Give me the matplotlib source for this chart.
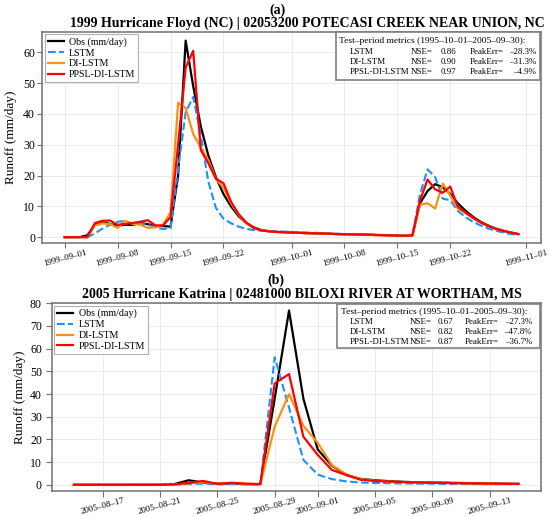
import matplotlib
matplotlib.use("Agg")
import matplotlib.pyplot as plt
import matplotlib.dates as mdates
from matplotlib.patches import Rectangle
import numpy as np
import pandas as pd

plt.rcParams['font.family'] = ['Liberation Serif', 'DejaVu Serif']

# ---------------- Panel (a) data: 1999 Hurricane Floyd ----------------
dates_a = pd.date_range("1999-09-01", "1999-10-31", freq="D")
obs_a = [0.0, 0.0, 0.0, 0.6, 4.0, 4.8, 4.3, 3.8, 4.0, 4.0,
         4.6, 4.2, 3.6, 3.6, 3.4, 20.0, 63.8, 49.0, 36.0, 26.5,
         19.5, 14.0, 10.0, 6.8, 4.6, 3.2, 2.3, 1.9, 1.7, 1.6,
         1.5, 1.4, 1.3, 1.25, 1.2, 1.1, 1.0, 0.95, 0.9, 0.85,
         0.8, 0.7, 0.65, 0.6, 0.5, 0.45, 0.6, 11.0, 15.0, 17.2,
         16.2, 14.0, 11.0, 8.6, 6.6, 5.0, 3.8, 2.8, 2.1, 1.5, 1.0]
lstm_a = [0.0, 0.0, 0.0, 0.0, 1.2, 2.8, 4.0, 5.0, 5.2, 4.4,
          4.5, 4.0, 3.2, 2.6, 2.9, 22.0, 40.5, 45.5, 33.0, 18.0,
          9.5, 6.0, 4.5, 3.4, 2.7, 2.3, 2.1, 2.0, 1.9, 1.8,
          1.7, 1.6, 1.5, 1.4, 1.3, 1.2, 1.1, 1.0, 0.95, 0.9,
          0.85, 0.8, 0.7, 0.6, 0.55, 0.5, 0.6, 14.0, 22.0, 19.5,
          12.5, 12.0, 8.5, 6.5, 5.0, 3.8, 2.8, 2.1, 1.5, 1.0, 0.7]
di_a = [0.0, 0.0, 0.0, 0.0, 3.8, 4.5, 4.2, 3.0, 5.3, 4.3,
        4.0, 3.0, 3.2, 4.0, 8.0, 43.6, 42.0, 33.5, 29.0, 25.0,
        19.0, 16.0, 11.0, 7.2, 4.6, 3.0, 2.2, 1.9, 1.7, 1.6,
        1.5, 1.4, 1.3, 1.25, 1.2, 1.1, 1.0, 0.95, 0.9, 0.85,
        0.8, 0.7, 0.65, 0.6, 0.5, 0.45, 0.6, 10.5, 11.0, 9.3,
        17.4, 13.5, 9.3, 7.8, 6.2, 4.8, 3.6, 2.7, 2.0, 1.5, 1.0]
ppsl_a = [0.0, 0.0, 0.0, 0.0, 4.6, 5.3, 5.4, 4.0, 4.3, 4.6,
          5.0, 5.5, 3.8, 3.8, 6.5, 30.0, 55.0, 60.5, 28.3, 24.0,
          19.0, 17.5, 11.5, 7.5, 4.8, 3.0, 2.2, 1.9, 1.7, 1.6,
          1.5, 1.4, 1.3, 1.25, 1.2, 1.1, 1.0, 0.95, 0.9, 0.85,
          0.8, 0.7, 0.65, 0.6, 0.5, 0.45, 0.6, 12.0, 18.7, 15.5,
          14.4, 16.4, 9.9, 8.0, 6.3, 4.8, 3.6, 2.7, 2.0, 1.5, 1.0]

# ---------------- Panel (b) data: 2005 Hurricane Katrina ----------------
dates_b = pd.date_range("2005-08-15", "2005-09-15", freq="D")
obs_b = [0.0, 0.0, 0.0, 0.0, 0.0, 0.0, 0.0, 0.3, 2.0, 1.0,
         0.5, 0.5, 0.3, 0.3, 38.0, 76.8, 38.0, 15.6, 8.4, 4.3,
         2.6, 2.0, 1.6, 1.3, 1.1, 1.0, 0.9, 0.8, 0.7, 0.6, 0.5, 0.4]
lstm_b = [0.0, 0.0, 0.0, 0.0, 0.0, 0.0, 0.0, 0.1, 0.3, 0.5,
          0.2, 0.3, 0.2, 0.1, 56.2, 34.0, 11.0, 4.5, 2.5, 1.5,
          1.0, 0.8, 0.7, 0.6, 0.5, 0.5, 0.4, 0.4, 0.3, 0.3, 0.3, 0.3]
di_b = [0.0, 0.0, 0.0, 0.0, 0.0, 0.0, 0.0, 0.2, 0.6, 1.2,
        0.5, 0.8, 0.4, 0.3, 25.6, 40.0, 26.0, 18.5, 8.6, 4.6,
        2.5, 1.8, 1.4, 1.2, 1.0, 0.9, 0.8, 0.7, 0.6, 0.5, 0.45, 0.4]
ppsl_b = [0.0, 0.0, 0.0, 0.0, 0.0, 0.0, 0.0, 0.2, 0.8, 1.7,
          0.4, 0.9, 0.5, 0.3, 44.7, 48.8, 21.2, 13.2, 6.5, 4.3,
          2.2, 1.7, 1.4, 1.2, 1.0, 0.9, 0.8, 0.7, 0.6, 0.5, 0.45, 0.4]

series_names = ["Obs (mm/day)", "LSTM", "DI-LSTM", "PPSL-DI-LSTM"]
model_names = ["LSTM", "DI-LSTM", "PPSL-DI-LSTM"]
nse_a = [0.86, 0.90, 0.97]
peak_a = [-28.3, -31.3, -4.9]
nse_b = [0.67, 0.82, 0.87]
peak_b = [-27.3, -47.8, -36.7]
period = "1995–10–01–2005–09–30"

title_a = "1999 Hurricane Floyd (NC) | 02053200 POTECASI CREEK NEAR UNION, NC"
title_b = "2005 Hurricane Katrina | 02481000 BILOXI RIVER AT WORTHAM, MS"

W, H = 550, 516
fig = plt.figure(figsize=(W / 100, H / 100), dpi=100)


def fx(px):
    return px / W


def fy(py):
    return 1 - py / H


axA = fig.add_axes([fx(42), fy(243.3), (541 - 42) / W, (243.3 - 31.7) / H])
axB = fig.add_axes([fx(51.7), fy(490.7), (540.7 - 51.7) / W, (490.7 - 303.3) / H])

styles = [dict(color="black", lw=1.6, ls="-"),
          dict(color="#1E90FF", lw=1.5, ls="--"),
          dict(color="#FF9010", lw=1.6, ls="-"),
          dict(color="#FF0000", lw=1.6, ls="-")]

spine_col = "#707070"


def draw(ax, dates, series, ylim, yticks, locator, ticklen, tickpad):
    for s, st, nm in zip(series, styles, series_names):
        ax.plot(dates, s, label=nm, **st)
    ax.set_ylim(*ylim)
    ax.set_yticks(yticks)
    ax.margins(x=0.05)
    ax.xaxis.set_major_locator(locator)
    ax.xaxis.set_major_formatter(mdates.DateFormatter("%Y–%m–%d"))
    ax.grid(True, color="#e8e8e8", lw=0.6)
    ax.set_axisbelow(True)
    for sp in ax.spines.values():
        sp.set_color(spine_col)
        sp.set_linewidth(1.1)
    ax.tick_params(axis="y", labelsize=8.5, length=ticklen, pad=tickpad, color=spine_col)
    ax.tick_params(axis="x", labelsize=6.4, length=ticklen, pad=0.5, color=spine_col)
    for lab in ax.get_xticklabels():
        lab.set_rotation(15)
        lab.set_ha("center")
    ax.set_ylabel("Runoff (mm/day)", fontsize=9.5)
    leg = ax.legend(loc="upper left", fontsize=7.2, frameon=True, fancybox=False,
                    borderaxespad=0.25, handlelength=1.6, labelspacing=0.18,
                    borderpad=0.3, handletextpad=0.55)
    leg.get_frame().set_edgecolor("#b0b0b0")
    leg.get_frame().set_linewidth(0.8)
    leg.get_frame().set_alpha(1.0)


draw(axA, dates_a, [obs_a, lstm_a, di_a, ppsl_a], (-2.0, 66.7), np.arange(0, 61, 10),
     mdates.DayLocator(bymonthday=[1, 8, 15, 22]), 3.3, 1.7)
draw(axB, dates_b, [obs_b, lstm_b, di_b, ppsl_b], (-2.6, 80), np.arange(0, 81, 10),
     mdates.DayLocator(bymonthday=[1, 5, 9, 13, 17, 21, 25, 29]), 4.0, 3)
axA.yaxis.labelpad = 4
axB.yaxis.labelpad = 3


def metrics_box(x0, y0, x1, y1, nses, peaks, cols, rows):
    rect = Rectangle((fx(x0), fy(y1)), (x1 - x0) / W, (y1 - y0) / H,
                     transform=fig.transFigure, facecolor="white",
                     edgecolor="#808080", lw=1.2, zorder=5)
    fig.patches.append(rect)
    hx, nx, ex, vx, px_, rx = cols
    fs = 6.4
    fig.text(fx(hx), fy(rows[0]), f"Test–period metrics ({period}):", fontsize=6.8,
             va="center", ha="left", zorder=6)
    for i, (m, n, p) in enumerate(zip(model_names, nses, peaks)):
        yy = fy(rows[i + 1])
        fig.text(fx(nx), yy, m, fontsize=fs, va="center", ha="left", zorder=6)
        fig.text(fx(ex), yy, "NSE=", fontsize=fs, va="center", ha="left", zorder=6)
        fig.text(fx(vx), yy, f"{n:.2f}", fontsize=fs, va="center", ha="left", zorder=6)
        fig.text(fx(px_), yy, "PeakErr=", fontsize=fs, va="center", ha="left", zorder=6)
        fig.text(fx(rx), yy, f"{p:.1f}%".replace("-", "–"), fontsize=fs,
                 va="center", ha="right", zorder=6)


metrics_box(335.7, 32.3, 540, 80, nse_a, peak_a, (339, 350, 411, 441, 470, 536),
            (40.7, 51.7, 61.7, 71.7))
metrics_box(336.7, 304.3, 540, 348.3, nse_b, peak_b, (340.7, 350, 410, 438, 465, 532),
            (311.7, 321.7, 331.7, 341.7))

fig.text(fx(277), fy(13.5), "(a)", fontsize=10, fontweight="bold", ha="center", va="baseline")
fig.text(fx(307), fy(26.7), title_a, fontsize=10, fontweight="bold", ha="center", va="baseline")
fig.text(fx(276), fy(283.5), "(b)", fontsize=10, fontweight="bold", ha="center", va="baseline")
fig.text(fx(301.7), fy(298.3), title_b, fontsize=10, fontweight="bold", ha="center", va="baseline")

fig.savefig("out.png", dpi=100)
